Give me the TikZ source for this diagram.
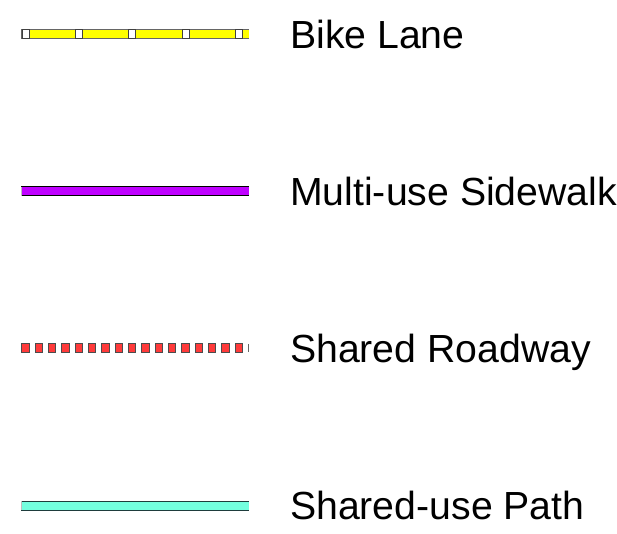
\documentclass[tikz,border=0pt]{standalone}
\usepackage{fontspec}
\setmainfont{Liberation Sans}
\definecolor{bikey}{HTML}{FFFF00}
\definecolor{purp}{HTML}{BF00FF}
\definecolor{roadred}{HTML}{FF3A3A}
\definecolor{aqua}{HTML}{73FFDF}
\definecolor{aquaedge}{HTML}{1E3C3C}
\tikzset{
  lbl/.style={anchor=base west, inner sep=0pt, font=\fontsize{39.2}{41}\selectfont},
}
\begin{document}
\begin{tikzpicture}[x=1pt,y=-1pt]
\useasboundingbox[fill=white] (0,0) rectangle (617,534);
% Bike Lane
\fill[bikey] (21,29.5) rectangle (249,38.5);
\draw[gray!80!black,line width=0.9pt] (21,29.5) -- (249,29.5) (21,38.5) -- (249,38.5) (21,29.5) -- (21,38.5);
\foreach \x in {22,75.3,128.6,182,235.3}
  \draw[fill=white,draw=black!75,line width=0.9pt] (\x,29.5) rectangle ++(7,9);
\node[lbl] (bike) at (290,48.3) {Bike Lane};
% Multi-use Sidewalk
\fill[purp] (21,187) rectangle (249,196);
\draw[black,line width=1pt] (21,187) -- (249,187) (21,196) -- (249,196);
\draw[gray!50,line width=0.8pt] (21,187) -- (21,196);
\node[lbl] (multi) at (290,205.3) {Multi-use Sidewalk};
% Shared Roadway
\foreach \i in {0,...,16}
  \draw[fill=roadred,draw=black!70,line width=0.9pt] ({21.8+13.33*\i},343.8) rectangle ++(7.4,8.4);
\fill[black!60] (248.2,343.8) rectangle (249,352.2);
\node[lbl] (road) at (290,362.3) {Shared Roadway};
% Shared-use Path
\fill[aqua] (21,501) rectangle (249,510);
\draw[aquaedge,line width=1pt] (21,501) -- (249,501) (21,510) -- (249,510);
\draw[gray!50,line width=0.8pt] (21,501) -- (21,510);
\node[lbl] (path) at (290,519.3) {Shared-use Path};
\end{tikzpicture}
\end{document}
